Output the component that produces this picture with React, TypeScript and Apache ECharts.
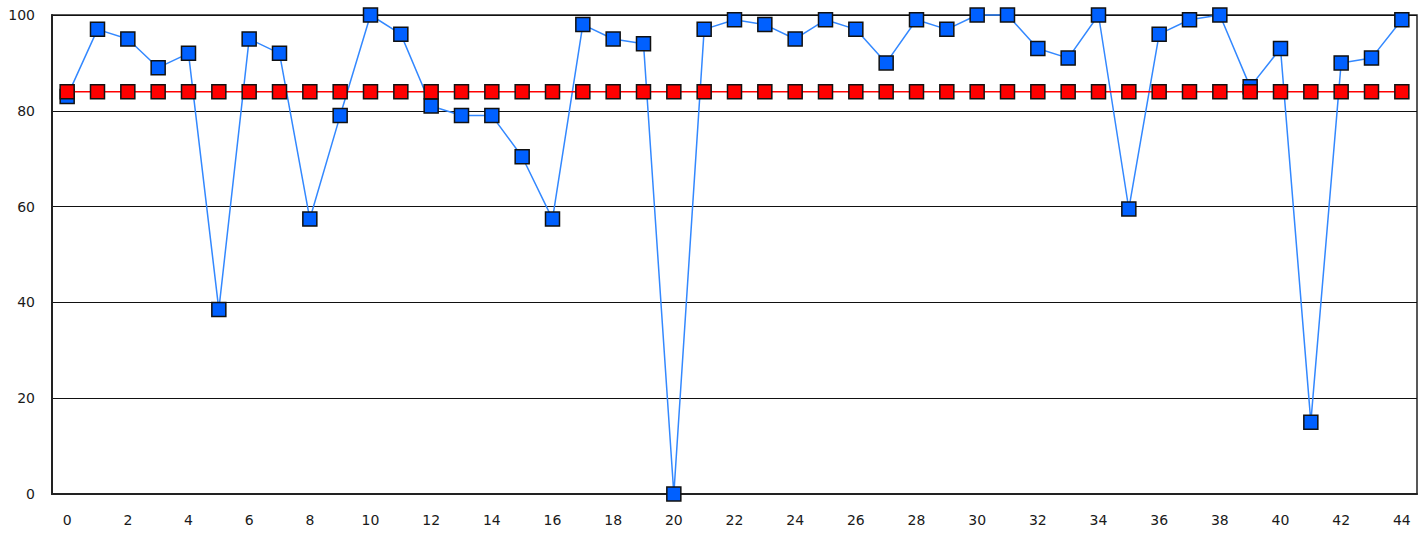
import React, { useEffect, useRef } from "react";
import * as echarts from "echarts";

const categories: string[] = Array.from({ length: 45 }, (_, i) => String(i));
const actualValues: number[] = [
  83, 97, 95, 89, 92, 38.5, 95, 92, 57.4, 79,
  100, 96, 81, 79, 79, 70.4, 57.4, 98, 95, 94,
  0, 97, 99, 98, 95, 99, 97, 90, 99, 97,
  100, 100, 93, 91, 100, 59.5, 96, 99, 100, 85,
  93, 15, 90, 91, 99,
];
const targetValues: number[] = categories.map(() => 84);

export default function App() {
  const ref = useRef<HTMLDivElement>(null);
  useEffect(() => {
    if (!ref.current) return;
    const chart = echarts.init(ref.current, null, { renderer: "svg" });
    chart.setOption({
      animation: false,
      backgroundColor: "#ffffff",
      grid: {
        left: 52,
        top: 15,
        right: 9,
        bottom: 43,
        show: true,
        borderColor: "#222",
        borderWidth: 1.5,
        containLabel: false,
      },
      xAxis: {
        type: "category",
        data: categories,
        boundaryGap: true,
        axisLine: { show: true, lineStyle: { color: "#222", width: 2 } },
        axisTick: { show: false },
        axisLabel: {
          interval: 1,
          margin: 19,
          fontSize: 14,
          color: "#1a1a1a",
          fontFamily: "DejaVu Sans",
        },
        splitLine: { show: false },
      },
      yAxis: {
        type: "value",
        min: 0,
        max: 100,
        interval: 20,
        axisLine: { show: true, lineStyle: { color: "#222", width: 2 } },
        axisTick: { show: false },
        axisLabel: {
          margin: 17,
          fontSize: 14,
          color: "#1a1a1a",
          fontFamily: "DejaVu Sans",
        },
        splitLine: { show: true, lineStyle: { color: "#111", width: 1.2 } },
      },
      series: [
        {
          name: "actual",
          type: "line",
          data: actualValues,
          symbol: "rect",
          symbolSize: 14,
          showAllSymbol: true,
          clip: false,
          lineStyle: { color: "#3388ff", width: 1.5 },
          itemStyle: { color: "#0060ff", borderColor: "#111", borderWidth: 1.5 },
          z: 2,
        },
        {
          name: "target",
          type: "line",
          data: targetValues,
          symbol: "rect",
          symbolSize: 14,
          showAllSymbol: true,
          clip: false,
          lineStyle: { color: "#ff0000", width: 1.5 },
          itemStyle: { color: "#ff0000", borderColor: "#111", borderWidth: 1.5 },
          z: 3,
        },
      ],
    });
    return () => chart.dispose();
  }, []);
  return (
    <div
      ref={ref}
      style={{ position: "absolute", left: 0, top: 0, width: 1426, height: 537 }}
    />
  );
}
